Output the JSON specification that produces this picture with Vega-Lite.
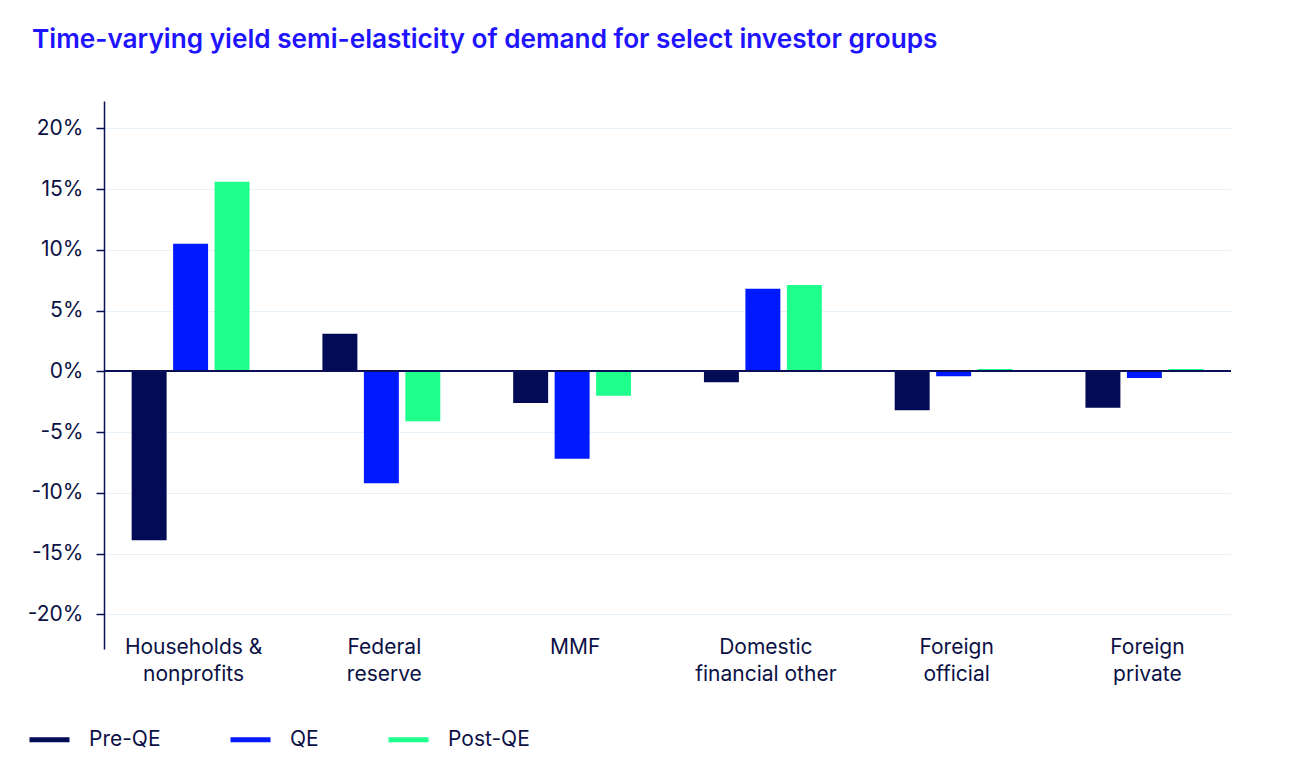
{
  "$schema": "https://vega.github.io/schema/vega-lite/v6.json",
  "autosize": {"type": "none"},
  "padding": {"left": 104, "top": 101, "right": 64, "bottom": 127},
  "width": 1127,
  "height": 548,
  "background": "#ffffff",
  "title": {
    "text": "Time-varying yield semi-elasticity of demand for select investor groups",
    "anchor": "start",
    "frame": "group",
    "dx": -72,
    "offset": 48,
    "font": "Inter",
    "fontSize": 26.2,
    "fontWeight": 600,
    "color": "#1F14FF"
  },
  "data": {
    "values": [
      {"group": "Households & nonprofits", "period": "Pre-QE", "value": -13.9},
      {"group": "Households & nonprofits", "period": "QE", "value": 10.5},
      {"group": "Households & nonprofits", "period": "Post-QE", "value": 15.6},
      {"group": "Federal reserve", "period": "Pre-QE", "value": 3.1},
      {"group": "Federal reserve", "period": "QE", "value": -9.2},
      {"group": "Federal reserve", "period": "Post-QE", "value": -4.1},
      {"group": "MMF", "period": "Pre-QE", "value": -2.6},
      {"group": "MMF", "period": "QE", "value": -7.2},
      {"group": "MMF", "period": "Post-QE", "value": -2.0},
      {"group": "Domestic financial other", "period": "Pre-QE", "value": -0.9},
      {"group": "Domestic financial other", "period": "QE", "value": 6.8},
      {"group": "Domestic financial other", "period": "Post-QE", "value": 7.1},
      {"group": "Foreign official", "period": "Pre-QE", "value": -3.2},
      {"group": "Foreign official", "period": "QE", "value": -0.4},
      {"group": "Foreign official", "period": "Post-QE", "value": 0.2},
      {"group": "Foreign private", "period": "Pre-QE", "value": -3.0},
      {"group": "Foreign private", "period": "QE", "value": -0.55},
      {"group": "Foreign private", "period": "Post-QE", "value": 0.2}
    ]
  },
  "layer": [
    {
      "mark": {"type": "bar", "cornerRadius": 0},
      "encoding": {
        "x": {
          "field": "group",
          "type": "nominal",
          "sort": null,
          "title": null,
          "scale": {"paddingInner": 0.382, "paddingOuter": 0.145, "align": 0.5},
          "axis": {
            "domain": false,
            "ticks": false,
            "grid": false,
            "labelAngle": 0,
            "labelPadding": -13,
            "labelFont": "Inter",
            "labelFontSize": 21,
            "labelColor": "#0B1145",
            "labelLineHeight": 27.5,
            "labelLimit": 300,
            "labelOffset": 3,
            "labelExpr": "datum.label == 'Households & nonprofits' ? ['Households &', 'nonprofits'] : datum.label == 'Federal reserve' ? ['Federal', 'reserve'] : datum.label == 'Domestic financial other' ? ['Domestic', 'financial other'] : datum.label == 'Foreign official' ? ['Foreign', 'official'] : datum.label == 'Foreign private' ? ['Foreign', 'private'] : datum.label"
          }
        },
        "xOffset": {
          "field": "period",
          "type": "nominal",
          "sort": ["Pre-QE", "QE", "Post-QE"],
          "scale": {"paddingInner": 0.157, "paddingOuter": 0}
        },
        "y": {
          "field": "value",
          "type": "quantitative",
          "title": null,
          "scale": {"domain": [-22.85, 22.25], "nice": false, "zero": false},
          "axis": {
            "values": [-20, -15, -10, -5, 0, 5, 10, 15, 20],
            "labelExpr": "datum.value + '%'",
            "labelFont": "Inter",
            "labelFontSize": 21,
            "labelColor": "#0B1145",
            "labelPadding": 13,
            "tickSize": 8,
            "tickColor": "#0A0F55",
            "tickWidth": 1.5,
            "domainColor": "#0A0F55",
            "domainWidth": 1.5,
            "grid": true,
            "gridColor": "#E7F2FB",
            "gridWidth": 1
          }
        },
        "color": {
          "field": "period",
          "type": "nominal",
          "sort": ["Pre-QE", "QE", "Post-QE"],
          "scale": {"domain": ["Pre-QE", "QE", "Post-QE"], "range": ["#030B57", "#001AFF", "#1FFF8C"]},
          "legend": {
            "title": null,
            "orient": "none",
            "direction": "horizontal",
            "legendX": -77,
            "legendY": 616,
            "padding": 0,
            "symbolType": "stroke",
            "symbolSize": 1600,
            "symbolStrokeWidth": 5,
            "labelFont": "Inter",
            "labelFontSize": 21,
            "labelColor": "#0B1145",
            "labelOffset": 17,
            "columnPadding": 59,
            "encode": {"symbols": {"update": {"stroke": {"scale": "color", "field": "value"}}}}
          }
        }
      }
    },
    {
      "mark": {"type": "rule", "color": "#0A0F55", "strokeWidth": 1.5},
      "encoding": {"y": {"datum": 0}}
    }
  ],
  "config": {"view": {"stroke": null}}
}
